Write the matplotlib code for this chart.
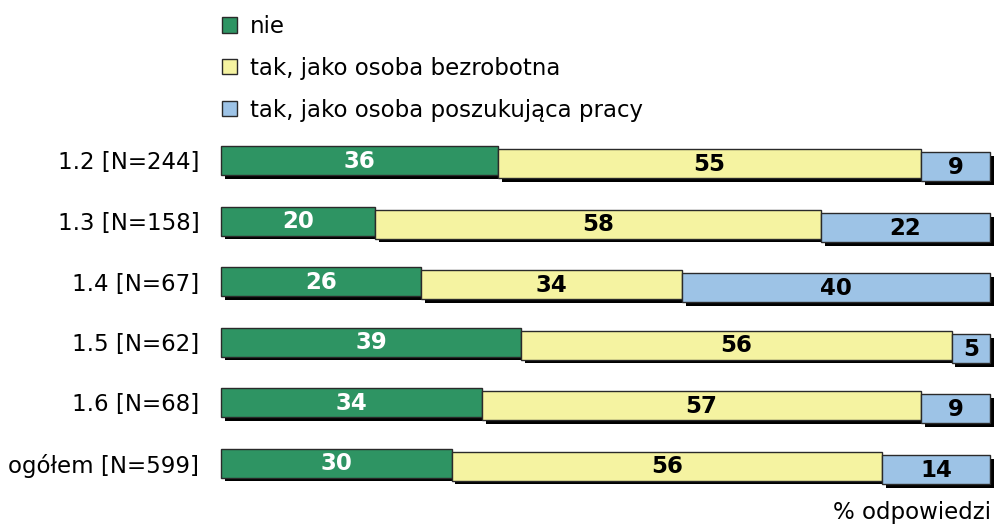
import matplotlib
matplotlib.use("Agg")
import matplotlib.pyplot as plt
import matplotlib.patheffects as pe
from matplotlib.patches import Patch

categories = ["1.2 [N=244]", "1.3 [N=158]", "1.4 [N=67]", "1.5 [N=62]", "1.6 [N=68]", "ogółem [N=599]"]
series_names = ["nie", "tak, jako osoba bezrobotna", "tak, jako osoba poszukująca pracy"]
nie = [36, 20, 26, 39, 34, 30]
bezrobotna = [55, 58, 34, 56, 57, 56]
poszukujaca = [9, 22, 40, 5, 9, 14]
colors = ["#2E9463", "#F5F3A1", "#9DC3E6"]
text_colors = ["white", "black", "black"]

W, H = 995, 525
fig = plt.figure(figsize=(W / 100, H / 100), dpi=100)
ax_left, ax_right, ax_top, ax_bot = 221, 990, 140, 490
ax = fig.add_axes([ax_left / W, 1 - ax_bot / H, (ax_right - ax_left) / W, (ax_bot - ax_top) / H])

row_px = 60.5
first_center = 160.5
ax.set_xlim(0, 100)
ax.set_ylim((ax_bot - first_center) / row_px, (ax_top - first_center) / row_px)

bar_h = 29 / row_px
step = 3.2 / row_px
shadow = [pe.SimplePatchShadow(offset=(2.7, -2.7), shadow_rgbFace="black", alpha=1.0), pe.Normal()]

series = [nie, bezrobotna, poszukujaca]
ys = list(range(len(categories)))
left = [0] * len(categories)
for k, (vals, col, tc) in enumerate(zip(series, colors, text_colors)):
    yk = [y + k * step for y in ys]
    bars = ax.barh(yk, vals, left=left, height=bar_h, color=col, edgecolor="#2a2a2a", linewidth=1.0, zorder=3)
    for b in bars:
        b.set_path_effects(shadow)
        b.set_clip_on(False)
    for y, v, l in zip(yk, vals, left):
        ax.text(l + v / 2, y + 0.01, str(v), ha="center", va="center", color=tc, fontsize=16.5,
                fontweight="bold", zorder=10)
    left = [a + b for a, b in zip(left, vals)]

ax.set_yticks(ys)
ax.set_yticklabels(categories, fontsize=16.5)
ax.tick_params(axis="y", length=0, pad=15.5)
ax.set_xticks([])
for s in ax.spines.values():
    s.set_visible(False)

handles = [Patch(facecolor=c, edgecolor="#2a2a2a", linewidth=1.0) for c in colors]
fig.legend(handles, series_names, loc="upper left", bbox_to_anchor=(222 / W, 1 - 15 / H), frameon=False,
           fontsize=16.5, handlelength=0.65, handleheight=0.65, handletextpad=0.55, labelspacing=0.82,
           borderpad=0, borderaxespad=0)

fig.text(991 / W, 1 - 513 / H, "% odpowiedzi", ha="right", va="center", fontsize=16.5)

fig.savefig("out.png", dpi=100)
